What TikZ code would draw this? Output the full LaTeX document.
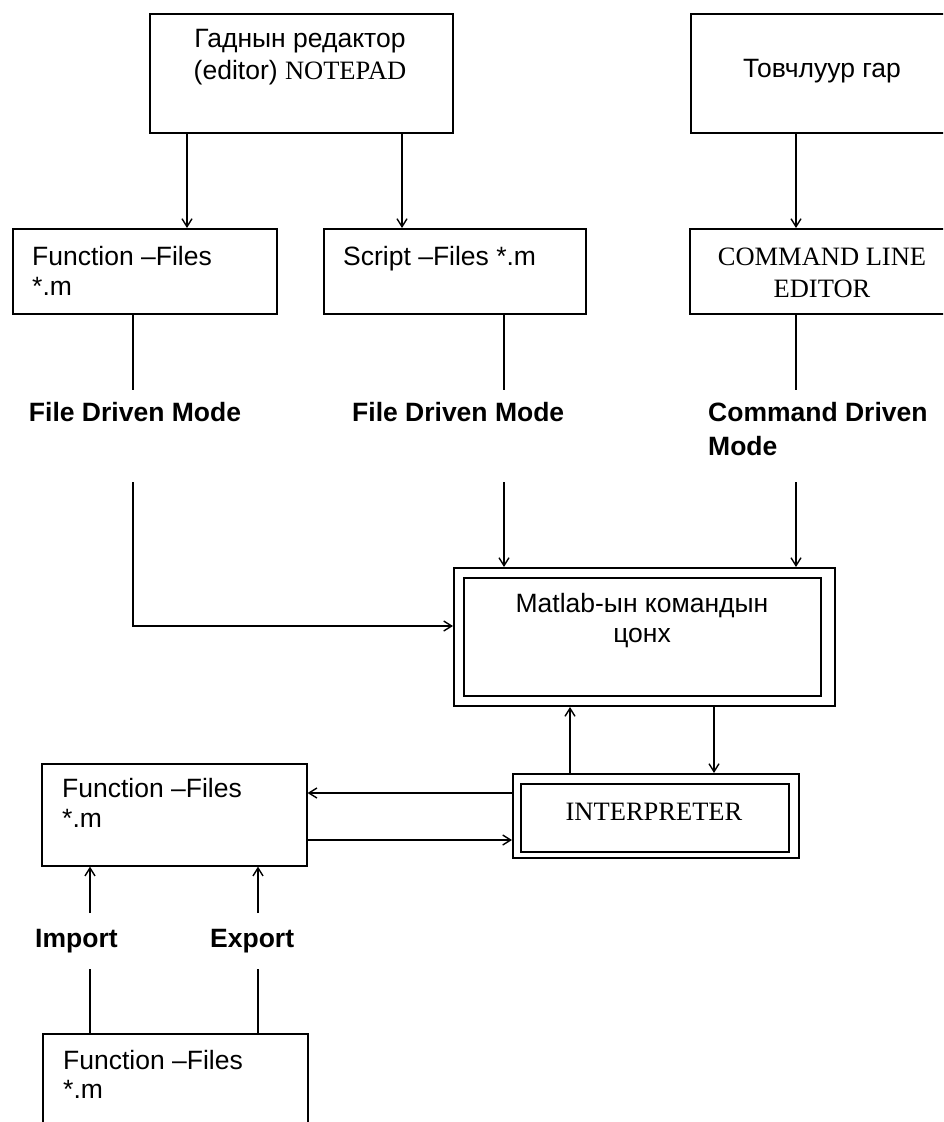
\documentclass[tikz,border=0pt]{standalone}
\usepackage{fontspec}
\setmainfont{Liberation Sans}
\newfontfamily\tnr{Liberation Serif}
\usetikzlibrary{arrows.meta,calc}
\newcommand\fs{\fontsize{26.5}{30}\selectfont}
\tikzset{
  box/.style={draw, line width=1.6pt, inner sep=0pt, anchor=north west},
  dbox/.style={draw, line width=2pt, inner sep=0pt, anchor=north west},
  conn/.style={line width=1.4pt},
  arr/.style={conn, -{Straight Barb[length=8pt,width=10pt]}},
  txt/.style={inner sep=0pt, font=\fs},
  tms/.style={inner sep=0pt, font=\fs\tnr},
  lbl/.style={inner sep=0pt, font=\fs\bfseries},
}
\begin{document}
\begin{tikzpicture}[x=1pt,y=-1pt]
\useasboundingbox (0,0) rectangle (943,1122);
\clip (0,0) rectangle (943,1122);
% top row
\node[box, minimum width=303pt, minimum height=119pt] (ed) at (149,13) {};
\node[txt, anchor=base] (ed1) at (300,47) {Гаднын редактор};
\node[txt, anchor=base] (ed2) at (300,79) {(editor) {\tnr NOTEPAD}};
\node[box, minimum width=265pt, minimum height=119pt] (tov) at (690,13) {};
\node[txt, anchor=base] (tovt) at (822,77) {Товчлуур гар};
% second row
\node[box, minimum width=264pt, minimum height=85pt] (f1) at (12,228) {};
\node[txt, anchor=base west] (f1a) at (32,265) {Function –Files};
\node[txt, anchor=base west] (f1b) at (32,295) {*.m};
\node[box, minimum width=262pt, minimum height=85pt] (sc) at (323,228) {};
\node[txt, anchor=base west] (sct) at (343,265) {Script –Files *.m};
\node[box, minimum width=266pt, minimum height=85pt] (cle) at (689,228) {};
\node[tms, anchor=base] (cle1) at (822,265) {COMMAND LINE};
\node[tms, anchor=base] (cle2) at (822,297) {EDITOR};
% labels
\node[lbl, anchor=base] (l1) at (135,421) {File Driven Mode};
\node[lbl, anchor=base west] (l2) at (352,421) {File Driven Mode};
\node[lbl, anchor=base west] (l3a) at (708,421) {Command Driven};
\node[lbl, anchor=base west] (l3b) at (708,455) {Mode};
% Matlab window
\node[dbox, minimum width=381pt, minimum height=138pt] (mo) at (453,567) {};
\node[dbox, minimum width=357pt, minimum height=118pt] (moi) at (463,577) {};
\node[txt, anchor=base] (mo1) at (642,612) {Matlab-ын командын};
\node[txt, anchor=base] (mo2) at (642,642) {цонх};
% interpreter
\node[dbox, minimum width=286pt, minimum height=84pt] (int) at (512,773) {};
\node[dbox, minimum width=268pt, minimum height=68pt] (inti) at (520,783) {};
\node[tms, anchor=base] (intt) at (654,820) {INTERPRETER};
% lower function files
\node[box, minimum width=265pt, minimum height=102pt] (f2) at (41,763) {};
\node[txt, anchor=base west] (f2a) at (62,797) {Function –Files};
\node[txt, anchor=base west] (f2b) at (62,827) {*.m};
\node[lbl, anchor=base west] (imp) at (35,947) {Import};
\node[lbl, anchor=base west] (exp) at (210,947) {Export};
\node[box, minimum width=265pt, minimum height=120pt] (f3) at (42,1033) {};
\node[txt, anchor=base west] (f3a) at (63,1069) {Function –Files};
\node[txt, anchor=base west] (f3b) at (63,1098) {*.m};
% coordinates
\coordinate (xA) at (187,0);
\coordinate (xB) at (402,0);
\coordinate (xC) at (796,0);
\coordinate (d1) at (133,390);
\coordinate (e1) at (504,390);
\coordinate (c1) at (796,390);
\coordinate (d2) at (133,482);
\coordinate (e2) at (504,482);
\coordinate (c2) at (796,482);
\coordinate (yM) at (0,626);
\coordinate (xF) at (570,0);
\coordinate (xG) at (714,0);
\coordinate (yH) at (0,793);
\coordinate (yI) at (0,840);
\coordinate (j1) at (90,913);
\coordinate (k1) at (258,913);
\coordinate (j2) at (90,969);
\coordinate (k2) at (258,969);
% connectors
\draw[arr] (ed.south -| xA) -- (f1.north -| xA);
\draw[arr] (ed.south -| xB) -- (sc.north -| xB);
\draw[arr] (tov.south -| xC) -- (cle.north -| xC);
\draw[conn] (f1.south -| d1) -- (d1);
\draw[conn] (sc.south -| e1) -- (e1);
\draw[conn] (cle.south -| c1) -- (c1);
\draw[arr] (d2) |- (mo.west |- yM);
\draw[arr] (e2) -- (mo.north -| e2);
\draw[arr] (c2) -- (mo.north -| c2);
\draw[arr] (int.north -| xF) -- (mo.south -| xF);
\draw[arr] (mo.south -| xG) -- (int.north -| xG);
\draw[arr] (int.west |- yH) -- (f2.east |- yH);
\draw[arr] (f2.east |- yI) -- (int.west |- yI);
\draw[arr] (j1) -- (f2.south -| j1);
\draw[arr] (k1) -- (f2.south -| k1);
\draw[conn] (f3.north -| j2) -- (j2);
\draw[conn] (f3.north -| k2) -- (k2);
\end{tikzpicture}
\end{document}
